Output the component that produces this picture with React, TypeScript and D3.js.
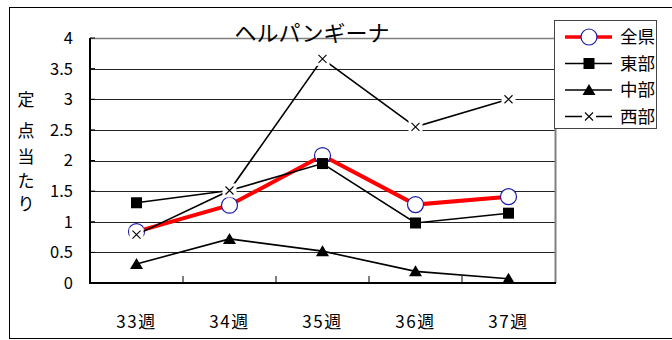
import React from "react";
import * as d3 from "d3";

const weeks = ["33週", "34週", "35週", "36週", "37週"];
const zenken = [0.84, 1.27, 2.08, 1.28, 1.41];
const toubu = [1.31, 1.51, 1.95, 0.98, 1.14];
const chubu = [0.31, 0.72, 0.52, 0.19, 0.07];
const seibu = [0.79, 1.51, 3.66, 2.55, 3.0];
const yTicks = [0, 0.5, 1, 1.5, 2, 2.5, 3, 3.5, 4];
const seriesNames = ["全県", "東部", "中部", "西部"];
const yTitle = ["定", "点", "当", "た", "り"];

const FONT = "'Noto Sans CJK JP', 'Noto Sans', sans-serif";

export default function App() {
  const W = 672, H = 340;
  const plot = { left: 90, right: 555, top: 38, bottom: 283 };
  const x = d3.scaleBand<string>().domain(weeks).range([plot.left, plot.right]);
  const y = d3.scaleLinear().domain([0, 4]).range([plot.bottom, plot.top]);
  const cx = (w: string) => (x(w) as number) + x.bandwidth() / 2;
  const line = d3.line<[string, number]>().x((d) => cx(d[0])).y((d) => y(d[1]));
  const pts = (vals: number[]) => weeks.map((w, i) => [w, vals[i]] as [string, number]);

  const circle = (px: number, py: number, k: string) => (
    <circle key={k} cx={px} cy={py} r={8} fill="#fff" stroke="#1a1aa6" strokeWidth={1.2} />
  );
  const square = (px: number, py: number, k: string) => (
    <rect key={k} x={px - 5.5} y={py - 5.5} width={11} height={11} fill="#000" />
  );
  const tri = (px: number, py: number, k: string) => (
    <path key={k} d={`M${px},${py - 6}L${px + 6.5},${py + 5}L${px - 6.5},${py + 5}Z`} fill="#000" />
  );
  const cross = (px: number, py: number, k: string) => (
    <g key={k}>
      <rect x={px - 7} y={py - 7} width={14} height={14} fill="#fff" />
      <path d={`M${px - 4},${py - 4}L${px + 4},${py + 4}M${px + 4},${py - 4}L${px - 4},${py + 4}`} stroke="#000" strokeWidth={1.1} />
    </g>
  );

  const series = [
    { vals: zenken, color: "#ff0000", width: 4, marker: circle },
    { vals: toubu, color: "#000", width: 1.6, marker: square },
    { vals: chubu, color: "#000", width: 1.6, marker: tri },
    { vals: seibu, color: "#000", width: 1.6, marker: cross },
  ];

  const legend = { x: 554, y: 20, w: 102, h: 108 };

  return (
    <svg width={W} height={H} style={{ position: "absolute", left: 0, top: 0 }} fontFamily={FONT}>
      <rect x={0} y={0} width={W} height={H} fill="#fff" />
      <rect x={9.5} y={7.5} width={W} height={331} fill="#fff" stroke="#000" strokeWidth={1} />

      {/* gridlines */}
      {yTicks.map((t) => (
        <line key={t} x1={plot.left} x2={plot.right} y1={Math.round(y(t)) + 0.5} y2={Math.round(y(t)) + 0.5} stroke="#222" strokeWidth={1} />
      ))}
      {/* plot frame */}
      <line x1={plot.left} x2={plot.right} y1={plot.top + 0.5} y2={plot.top + 0.5} stroke="#808080" strokeWidth={1.5} />
      <line x1={plot.right + 0.5} x2={plot.right + 0.5} y1={plot.top} y2={plot.bottom} stroke="#808080" strokeWidth={2} />
      <line x1={plot.left} x2={plot.left} y1={plot.top} y2={plot.bottom + 1} stroke="#000" strokeWidth={2} />
      <line x1={plot.left} x2={plot.right + 1} y1={plot.bottom} y2={plot.bottom} stroke="#000" strokeWidth={2} />
      {/* y ticks */}
      {yTicks.map((t) => (
        <g key={"yt" + t}>
          <line x1={plot.left} x2={plot.left + 5} y1={y(t)} y2={y(t)} stroke="#000" strokeWidth={1} />
          <text x={73} y={y(t)} dy="0.36em" textAnchor="end" fontSize={16.5} fill="#000">{t}</text>
        </g>
      ))}
      {/* x ticks at band edges */}
      {weeks.map((w, i) => {
        const bx = (x(w) as number) + x.bandwidth();
        return i < weeks.length - 1 ? (
          <line key={"xt" + w} x1={bx} x2={bx} y1={plot.bottom} y2={plot.bottom - 7} stroke="#000" strokeWidth={1} />
        ) : null;
      })}
      {weeks.map((w) => (
        <text key={"xl" + w} x={cx(w)} y={322} dy="0.36em" textAnchor="middle" fontSize={17} letterSpacing={1.5} fill="#000">{w}</text>
      ))}

      {/* y axis title */}
      {yTitle.map((c, i) => (
        <text key={"yl" + i} x={26} y={[100, 131, 157, 181, 204][i]} dy="0.36em" textAnchor="middle" fontSize={17} fill="#000">{c}</text>
      ))}

      {/* series */}
      {series.map((s, si) => (
        <g key={"s" + si}>
          <path d={line(pts(s.vals)) as string} fill="none" stroke={s.color} strokeWidth={s.width} />
          {pts(s.vals).map((p, i) => s.marker(cx(p[0]), y(p[1]), "m" + si + "-" + i))}
        </g>
      ))}

      {/* title */}
      <text x={312} y={41} textAnchor="middle" fontSize={22} fill="#000">ヘルパンギーナ</text>

      {/* legend */}
      <rect x={legend.x + 0.5} y={legend.y + 0.5} width={legend.w} height={legend.h} fill="#fff" stroke="#444" strokeWidth={1} />
      {series.map((s, i) => {
        const ly = 37 + i * 26.5;
        return (
          <g key={"lg" + i}>
            <line x1={565} x2={612} y1={ly} y2={ly} stroke={s.color} strokeWidth={s.width === 4 ? 3.5 : 1.6} />
            {s.marker(589, ly, "lm" + i)}
            <text x={620} y={ly} dy="0.36em" fontSize={17.5} fill="#000">{seriesNames[i]}</text>
          </g>
        );
      })}
    </svg>
  );
}
